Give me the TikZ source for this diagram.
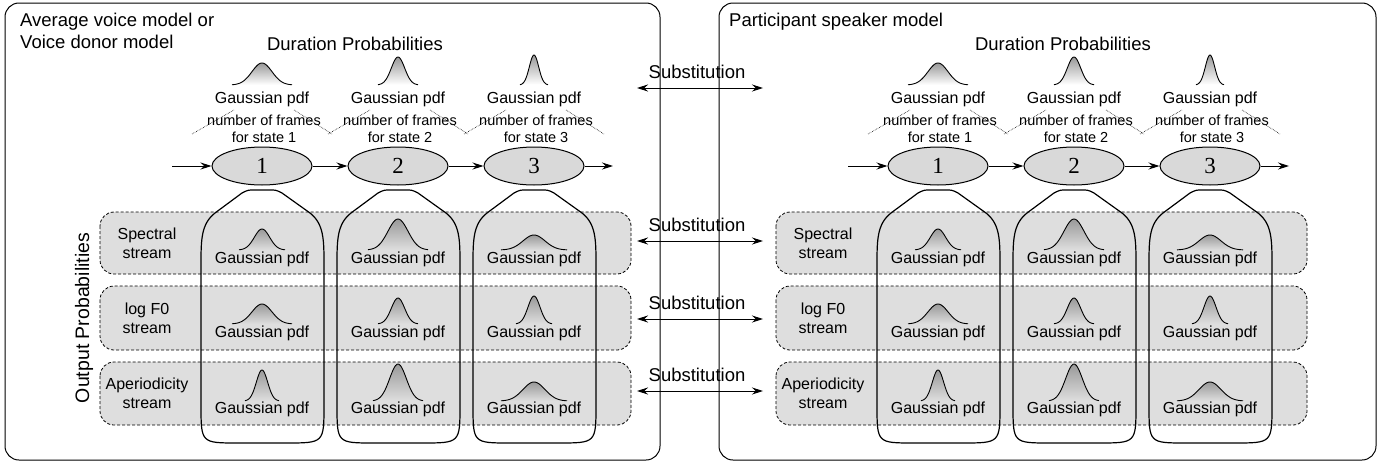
\documentclass[tikz,border=0pt]{standalone}
\usepackage{fontspec}
\setmainfont{Liberation Sans}
\newfontfamily\numfont{Liberation Serif}
\usepackage{tikz}
\usetikzlibrary{arrows,arrows.meta,positioning,calc,shapes.geometric}
\tikzstyle{state}=[draw,fill=black!15,ellipse,minimum width=100pt,minimum height=38pt,inner sep=0pt,line width=1pt,font=\numfont\fontsize{23}{23}\selectfont]
\tikzstyle{streambox}=[draw,densely dashed,fill=black!13,rounded corners=14pt,line width=0.8pt]
\tikzstyle{modelbox}=[draw,rounded corners=14pt,line width=1pt]
\tikzstyle{capsule}=[draw,line width=1.2pt]
\tikzstyle{pdftext}=[font=\fontsize{16}{16}\selectfont,anchor=base,inner sep=0pt]
\tikzstyle{frametext}=[font=\fontsize{14.5}{16}\selectfont,anchor=base,inner sep=0pt]
\tikzstyle{streamlabel}=[font=\fontsize{16}{19}\selectfont,align=center,inner sep=0pt]
\tikzstyle{title}=[font=\fontsize{18.5}{19}\selectfont,anchor=base west,inner sep=0pt]
\tikzstyle{heading}=[font=\fontsize{18.5}{19}\selectfont,anchor=base,inner sep=0pt]
\tikzstyle{link}=[line width=1pt,-{Stealth[length=11pt,width=7pt]}]
\tikzstyle{subst}=[line width=1pt,{Stealth[length=11pt,width=7pt]}-{Stealth[length=11pt,width=7pt]}]
\tikzstyle{framesline}=[densely dotted,line width=0.6pt]
% bell curve: x, base y, half width, height, bottom colour
\newcommand{\gausspdf}[5]{%
  \shade[top color=black!40,bottom color=#5] plot[variable=\t,domain=-3:3,samples=41] ({#1+\t*#3/3},{#2-#4*exp(-0.5*\t*\t)}) -- cycle;
  \draw[line width=0.9pt] plot[variable=\t,domain=-3:3,samples=41] ({#1+\t*#3/3},{#2-#4*exp(-0.5*\t*\t)});}
% outline round one state's streams
\newcommand{\statecapsule}[1]{%
  \draw[capsule] (#1,190) -- (#1+8,190) .. controls (#1+14,190) .. (#1+20,193)
    -- (#1+48,213) .. controls (#1+62,224) and (#1+62,240) .. (#1+62,265)
    -- (#1+62,405) .. controls (#1+62,443) .. (#1+24,443)
    -- (#1-24,443) .. controls (#1-61,443) .. (#1-61,405)
    -- (#1-61,265) .. controls (#1-61,240) and (#1-61,224) .. (#1-47,213)
    -- (#1-20,193) .. controls (#1-14,190) .. (#1-8,190) -- cycle;}

\begin{document}
\begin{tikzpicture}[x=1pt,y=-1pt]
\useasboundingbox (0,0) rectangle (1384,463);
% the two models
\draw[modelbox] (5,3) rectangle (660,460);
\draw[modelbox] (719,3) rectangle (1376,460);
\node[title] (avg1) at (20,26) {Average voice model or};
\node[title] (avg2) at (20,48) {Voice donor model};
\node[title] (part) at (729,26) {Participant speaker model};
\node[heading] (durL) at (355,50) {Duration Probabilities};
\node[heading] (durR) at (1063,50) {Duration Probabilities};
\node[heading,rotate=90,anchor=center,font=\fontsize{19.5}{20}\selectfont] (outp) at (84,318) {Output Probabilities};

\foreach \side/\o in {L/0,R/676}{
  % streams
  \foreach \r/\ya/\yb/\lab in {1/212/274/{Spectral\\stream},2/286/350/{log F0\\stream},3/362/425/{Aperiodicity\\stream}}{
    \draw[streambox] (100+\o,\ya) rectangle (631+\o,\yb);
    \node[streamlabel] (lab\side\r) at (147+\o,{(\ya+\yb)/2}) {\lab};
  }
  % states
  \foreach \i/\x/\dw/\dh in {1/262/30/22,2/398/20/28,3/534/14/30}{
    \statecapsule{\x+\o}
    \node[state] (s\side\i) at (\x+\o,166) {\i};
    \gausspdf{\x+\o}{85}{\dw}{\dh}{white}
    \node[pdftext] (dp\side\i) at (\x+\o,103) {Gaussian pdf};
    \draw[framesline] (\x+\o-70,134) -- (\x+\o-28,110);
    \draw[framesline] (\x+\o+32,110) -- (\x+\o+70,134);
    \node[frametext] (nf\side\i) at (\x+\o+2,125) {number of frames};
    \node[frametext] (fs\side\i) at (\x+\o+2,142) {for state \i};
  }
  % output pdfs
  \foreach \i/\x/\aw/\ah/\bw/\bh/\cw/\ch in {1/262/23/21/30/20/17/31,2/398/30/31/20/26/25/37,3/534/33/15/18/28/33/19}{
    \gausspdf{\x+\o}{250}{\aw}{\ah}{black!13}
    \gausspdf{\x+\o}{324}{\bw}{\bh}{black!13}
    \gausspdf{\x+\o}{401}{\cw}{\ch}{black!13}
    \node[pdftext] (op\side\i a) at (\x+\o,263) {Gaussian pdf};
    \node[pdftext] (op\side\i b) at (\x+\o,337) {Gaussian pdf};
    \node[pdftext] (op\side\i c) at (\x+\o,413) {Gaussian pdf};
  }
  % state chain
  \coordinate (in\side) at (172+\o,166);
  \coordinate (out\side) at (613+\o,166);
  \draw[link] (in\side) -- (s\side1);
  \draw[link] (s\side1) -- (s\side2);
  \draw[link] (s\side2) -- (s\side3);
  \draw[link] (s\side3) -- (out\side);
}

% substitutions between the models
\foreach \k/\y in {1/88,2/241,3/319,4/391}{
  \coordinate (subA\k) at (637,\y);
  \coordinate (subB\k) at (763,\y);
  \draw[subst] (subA\k) -- (subB\k);
  \node[heading] (sub\k) at (697,\y-10) {Substitution};
}
\end{tikzpicture}
\end{document}
